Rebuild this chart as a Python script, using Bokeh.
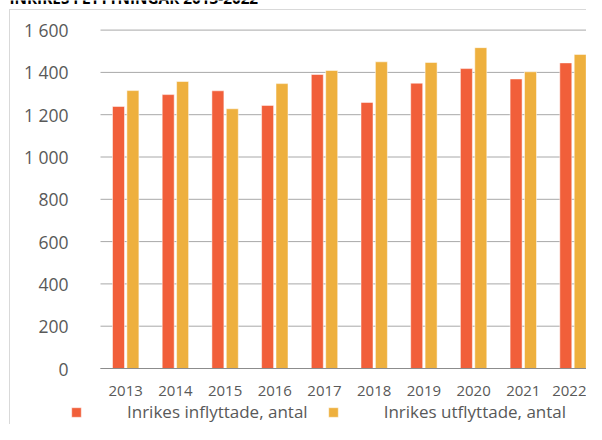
from bokeh.plotting import figure
from bokeh.models import (ColumnDataSource, Range1d, FixedTicker, Legend, LegendItem, Label)
from bokeh.transform import dodge
from bokeh.embed import file_html
from bokeh.resources import INLINE

# ---- data ----
title_text = "INRIKES FLYTTNINGAR 2013-2022"
years = ["2013", "2014", "2015", "2016", "2017", "2018", "2019", "2020", "2021", "2022"]
inflyttade = [1239, 1295, 1313, 1244, 1390, 1258, 1349, 1418, 1369, 1445]
utflyttade = [1314, 1357, 1228, 1347, 1409, 1450, 1447, 1517, 1403, 1485]
series_names = ["Inrikes inflyttade, antal", "Inrikes utflyttade, antal"]
y_ticks = [0, 200, 400, 600, 800, 1000, 1200, 1400, 1600]
y_tick_labels = ["0", "200", "400", "600", "800", "1 000", "1 200", "1 400", "1 600"]

RED = "#F15F3A"
YEL = "#EEB03E"
TXT = "#595959"
FONT = "Open Sans"

idx = list(range(len(years)))
src = ColumnDataSource(dict(idx=idx, inf=inflyttade, utf=utflyttade))

# layout geometry (screen px): plot area from x=100, zero line at y=368
W, H = 586, 424
PLOT_LEFT, ZERO_Y = 100, 368
FIRST_CENTER, GROUP = 125.2, 49.7
PX_PER_UNIT = 0.2115
x_start = -FIRST_CENTER / GROUP
x_end = x_start + W / GROUP
x_left = (PLOT_LEFT - FIRST_CENTER) / GROUP
y_end = ZERO_Y / PX_PER_UNIT
y_start = -(H - ZERO_Y) / PX_PER_UNIT

p = figure(width=W, height=H,
           x_range=Range1d(x_start, x_end),
           y_range=Range1d(y_start, y_end),
           output_backend="svg", toolbar_location=None,
           min_border_left=0, min_border_right=0,
           min_border_top=0, min_border_bottom=0)
p.border_fill_color = None
p.background_fill_color = None
p.outline_line_color = None
p.styles = {"box-shadow": "inset 9px 9px 0 0 #ffffff, inset 10px 10px 0 0 #d9d9d9"}

# horizontal gridlines, only across the plot area
p.xgrid.grid_line_color = None
p.ygrid.grid_line_color = None
grid_src = ColumnDataSource(dict(y=y_ticks))
p.segment(x0=x_left, x1=x_end, y0="y", y1="y", source=grid_src,
          line_color="#a8a8a8", line_width=1, level="underlay")

bw = 12 / GROUP
off = 7.2 / GROUP
r1 = p.vbar(x=dodge("idx", -off, range=p.x_range), top="inf", width=bw, source=src,
            fill_color=RED, line_color="white", line_alpha=0.5, line_width=1)
r2 = p.vbar(x=dodge("idx", off, range=p.x_range), top="utf", width=bw, source=src,
            fill_color=YEL, line_color="white", line_alpha=0.5, line_width=1)

# x axis, pinned at value 0
p.xaxis.fixed_location = 0
p.xaxis.bounds = (x_left, x_end)
p.xaxis.ticker = FixedTicker(ticks=idx)
p.xaxis.major_label_overrides = {i: y for i, y in zip(idx, years)}
p.xaxis.major_tick_line_color = None
p.xaxis.minor_tick_line_color = None
p.xaxis.major_tick_out = 0
p.xaxis.major_tick_in = 0
p.xaxis.axis_line_color = "#8c8c8c"
p.xaxis.major_label_standoff = 17
p.xaxis.major_label_text_font = FONT
p.xaxis.major_label_text_font_size = "15px"
p.xaxis.major_label_text_color = TXT

# y axis, pinned at the left edge of the plot area
p.yaxis.fixed_location = x_left
p.yaxis.bounds = (0, 1600)
p.yaxis.ticker = FixedTicker(ticks=y_ticks)
p.yaxis.major_label_overrides = {t: l for t, l in zip(y_ticks, y_tick_labels)}
p.yaxis.major_tick_line_color = None
p.yaxis.minor_tick_line_color = None
p.yaxis.major_tick_out = 0
p.yaxis.major_tick_in = 0
p.yaxis.axis_line_color = None
p.yaxis.major_label_standoff = 32
p.yaxis.major_label_text_font = FONT
p.yaxis.major_label_text_font_size = "17.5px"
p.yaxis.major_label_text_color = TXT

legend = Legend(items=[LegendItem(label=series_names[0], renderers=[r1]),
                       LegendItem(label=series_names[1], renderers=[r2])],
                orientation="horizontal", location=(70, 1),
                glyph_width=12, glyph_height=12, label_standoff=45, spacing=19,
                padding=0, margin=0, border_line_color=None, background_fill_alpha=0,
                label_text_font=FONT, label_text_font_size="17px", label_text_color=TXT)
p.add_layout(legend, "center")

# cropped chart title (only its lower edge is visible in the reference)
title = Label(x=9, y=H + 3, x_units="screen", y_units="screen",
              text=title_text, text_font=FONT, text_font_style="bold",
              text_font_size="15.3px", text_color="#000000", text_baseline="alphabetic")
p.add_layout(title)

open("out.html", "w").write(file_html(p, INLINE))
